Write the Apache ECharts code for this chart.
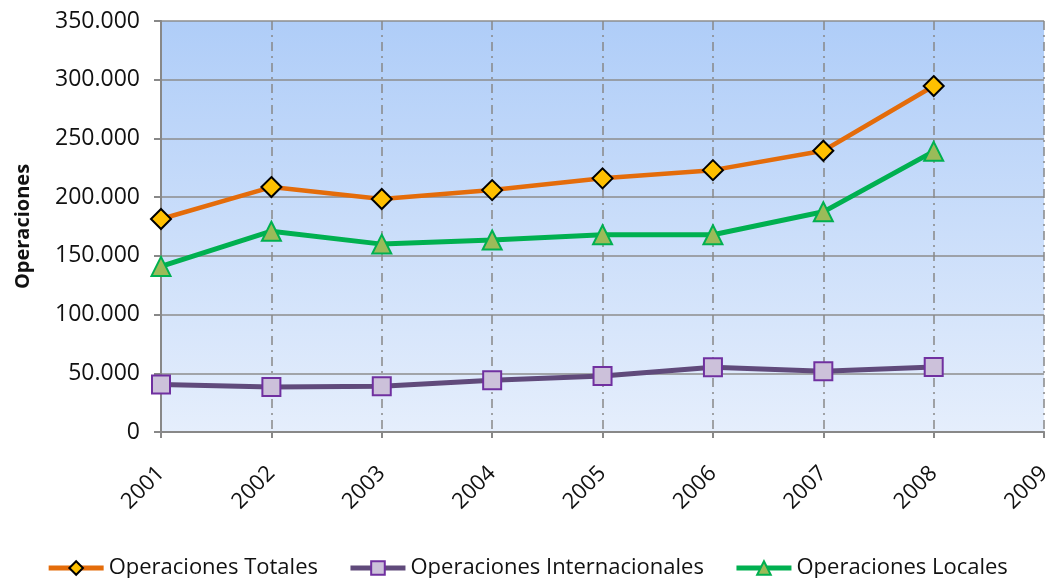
<!DOCTYPE html>
<html>
<head>
    <meta charset="UTF-8">
    <title></title>
    <script type="text/javascript" src="https://cdn.jsdelivr.net/npm/echarts@6/dist/echarts.min.js"></script>
    <style>
        html, body { margin: 0; padding: 0; background: #fff; }
    </style>
</head>
<body>
<div id="main" style="width: 1054px;height:578px;"></div>
<script type="text/javascript">
    // categorias y valores
    var years = ['2001', '2002', '2003', '2004', '2005', '2006', '2007', '2008', '2009'];
    var totales = [181400, 208600, 198400, 206000, 216000, 223000, 239500, 294600];
    var internacionales = [40400, 38300, 38900, 44000, 47700, 55100, 51700, 55400];
    var locales = [141000, 171000, 160000, 163500, 168000, 168000, 187500, 239000];

    var font = '"Open Sans", Lato, sans-serif';

    function miles(v) {
        return String(v).replace(/\B(?=(\d{3})+(?!\d))/g, '.');
    }

    var myChart = echarts.init(document.getElementById('main'));

    var option = {
        animation: false,
        textStyle: { fontFamily: font },
        grid: {
            left: 161, right: 5, top: 21, bottom: 146,
            show: true,
            borderWidth: 0,
            backgroundColor: new echarts.graphic.LinearGradient(0, 0, 0, 1, [
                { offset: 0, color: '#afcdf8' },
                { offset: 1, color: '#e5eefc' }
            ])
        },
        legend: {
            top: 557,
            left: 'center',
            padding: 0,
            itemWidth: 55,
            itemHeight: 17,
            itemGap: 30,
            textStyle: { fontSize: 22, color: '#111', fontFamily: font },
            data: [
                { name: 'Operaciones Totales', lineStyle: { width: 5 } },
                { name: 'Operaciones Internacionales', lineStyle: { width: 5 } },
                { name: 'Operaciones Locales', lineStyle: { width: 5 } }
            ]
        },
        xAxis: {
            type: 'category',
            boundaryGap: false,
            data: years,
            axisLine: { lineStyle: { color: '#888', width: 2 } },
            axisTick: { show: true, length: 6, lineStyle: { color: '#888', width: 2 } },
            axisLabel: { rotate: 45, fontSize: 22, color: '#111', margin: 38 },
            splitLine: {
                show: true,
                lineStyle: { color: '#888', width: 1.5, type: [9, 5, 2, 5] }
            }
        },
        yAxis: {
            type: 'value',
            min: 0,
            max: 350000,
            interval: 50000,
            name: 'Operaciones',
            nameLocation: 'middle',
            nameGap: 128,
            nameTextStyle: { fontSize: 20, fontWeight: 'bold', color: '#111' },
            axisLine: { show: true, lineStyle: { color: '#888', width: 2 } },
            axisTick: { show: true, length: 7, lineStyle: { color: '#888', width: 2 } },
            axisLabel: { fontSize: 23, color: '#111', margin: 21, formatter: miles },
            splitLine: { lineStyle: { color: '#8c8c8c', width: 1.5 } }
        },
        series: [
            {
                name: 'Operaciones Totales',
                type: 'line',
                data: totales,
                symbol: 'diamond',
                symbolSize: 20,
                lineStyle: { color: '#e46c0a', width: 4.5 },
                itemStyle: { color: '#ffc000', borderColor: '#000', borderWidth: 2 }
            },
            {
                name: 'Operaciones Internacionales',
                type: 'line',
                data: internacionales,
                symbol: 'rect',
                symbolSize: 18,
                lineStyle: { color: '#604a7b', width: 5 },
                itemStyle: { color: '#ccc1da', borderColor: '#7030a0', borderWidth: 2 }
            },
            {
                name: 'Operaciones Locales',
                type: 'line',
                data: locales,
                symbol: 'triangle',
                symbolSize: 19,
                lineStyle: { color: '#00b050', width: 5 },
                itemStyle: { color: '#9bbb59', borderColor: '#00b050', borderWidth: 2 }
            }
        ]
    };

    myChart.setOption(option);
</script>
</body>
</html>
